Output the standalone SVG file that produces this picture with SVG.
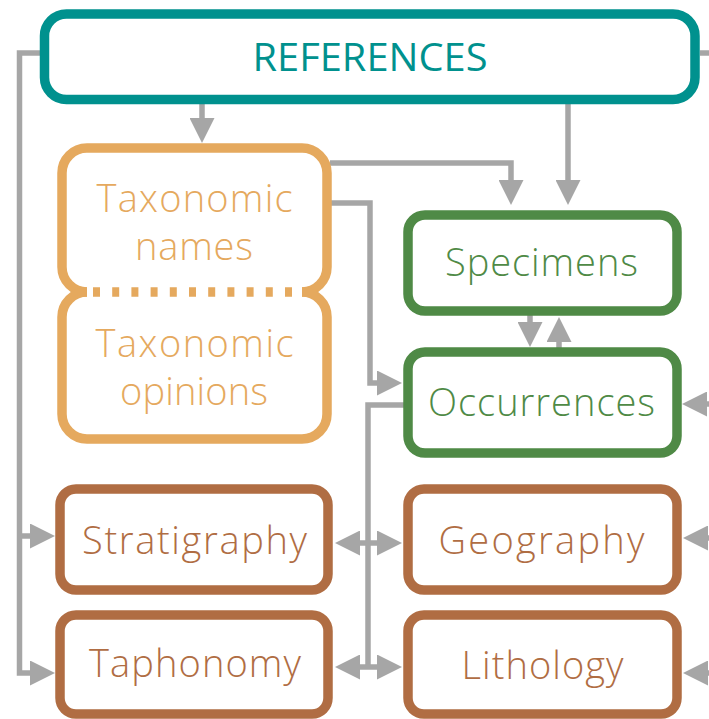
<svg xmlns="http://www.w3.org/2000/svg" width="709" height="719" viewBox="0 0 709 719">
<style>
.box{fill:#fff;stroke-width:9.5}
.ref{stroke:#00918E}
.tax{stroke:#E5A95E;fill:none;stroke-width:9.5}
.grn{stroke:#4F8A46}
.brn{stroke:#B06D43}
text{font-family:"Open Sans","Noto Sans","Liberation Sans",sans-serif;font-size:38px;font-weight:300;text-anchor:middle}
.tref{fill:#00918E;font-weight:500;font-size:38px}
.ttax{fill:#E5A95E}
.tgrn{fill:#4F8A46}
.tbrn{fill:#B06D43}
.c{fill:none;stroke:#A6A6A6;stroke-width:5.5}
</style>
<defs>
<marker id="ah" viewBox="0 0 25 25" markerWidth="25" markerHeight="25" markerUnits="userSpaceOnUse" refX="5" refY="12.5" orient="auto-start-reverse">
<path d="M0,0 L25,12.5 L0,25 z" fill="#A6A6A6"/>
</marker>
</defs>
<g id="connectors">
<path class="c" d="M40,53 H19.5 V673 H35" marker-end="url(#ah)"/>
<path class="c" d="M19.5,536 H35" marker-end="url(#ah)"/>
<path class="c" d="M202,104 V123" marker-end="url(#ah)"/>
<path class="c" d="M568,104 V185" marker-end="url(#ah)"/>
<path class="c" d="M700,53 H712"/>
<path class="c" d="M330,163 H511 V185" marker-end="url(#ah)"/>
<path class="c" d="M330,203 H370 V383 H382" marker-end="url(#ah)"/>
<path class="c" d="M530,314 V327" marker-end="url(#ah)"/>
<path class="c" d="M559,349 V337" marker-end="url(#ah)"/>
<path class="c" d="M405,405 H368 V667"/>
<path class="c" d="M355,543 H382" marker-start="url(#ah)" marker-end="url(#ah)"/>
<path class="c" d="M355,667 H382" marker-start="url(#ah)" marker-end="url(#ah)"/>
<path class="c" d="M720,404 H702" marker-end="url(#ah)"/>
<path class="c" d="M720,538 H703" marker-end="url(#ah)"/>
<path class="c" d="M720,673 H703" marker-end="url(#ah)"/>
</g>
<g id="references">
<rect class="box ref" x="44.5" y="14" width="650.5" height="85.5" rx="22"/>
<text class="tref" x="370" y="71" textLength="235" lengthAdjust="spacingAndGlyphs">REFERENCES</text>
</g>
<g id="taxonomic-names">
<path class="tax" d="M87,292 A25,25 0 0 1 62,267 V173 A25,25 0 0 1 87,148 H302 A25,25 0 0 1 327,173 V267 A25,25 0 0 1 302,292"/>
<path d="M93,292 H300" fill="none" stroke="#E5A95E" stroke-width="9.5" stroke-dasharray="7 12.2"/>
<text class="ttax" x="194.5" y="212" textLength="196" lengthAdjust="spacing">Taxonomic</text>
<text class="ttax" x="194" y="260" textLength="118" lengthAdjust="spacing">names</text>
</g>
<g id="taxonomic-opinions">
<path class="tax" d="M87,292 A25,25 0 0 0 62,317 V414 A25,25 0 0 0 87,439 H302 A25,25 0 0 0 327,414 V317 A25,25 0 0 0 302,292"/>
<text class="ttax" x="194.5" y="357" textLength="198" lengthAdjust="spacing">Taxonomic</text>
<text class="ttax" x="194" y="405" textLength="148" lengthAdjust="spacing">opinions</text>
</g>
<g id="specimens">
<rect class="box grn" x="408" y="215" width="269" height="96" rx="17"/>
<text class="tgrn" x="541.5" y="276" textLength="193" lengthAdjust="spacing">Specimens</text>
</g>
<g id="occurrences">
<rect class="box grn" x="408" y="352" width="269" height="101" rx="17"/>
<text class="tgrn" x="541.5" y="416" textLength="227" lengthAdjust="spacing">Occurrences</text>
</g>
<g id="stratigraphy">
<rect class="box brn" x="60" y="489" width="268" height="101" rx="16"/>
<text class="tbrn" x="194.5" y="554" textLength="225" lengthAdjust="spacing">Stratigraphy</text>
</g>
<g id="taphonomy">
<rect class="box brn" x="60" y="615" width="268" height="99" rx="16"/>
<text class="tbrn" x="195" y="677" textLength="212" lengthAdjust="spacing">Taphonomy</text>
</g>
<g id="geography">
<rect class="box brn" x="408" y="489" width="269" height="101" rx="16"/>
<text class="tbrn" x="541.5" y="554" textLength="206" lengthAdjust="spacing">Geography</text>
</g>
<g id="lithology">
<rect class="box brn" x="408" y="615" width="269" height="99" rx="16"/>
<text class="tbrn" x="542.5" y="679" textLength="162" lengthAdjust="spacing">Lithology</text>
</g>
</svg>
